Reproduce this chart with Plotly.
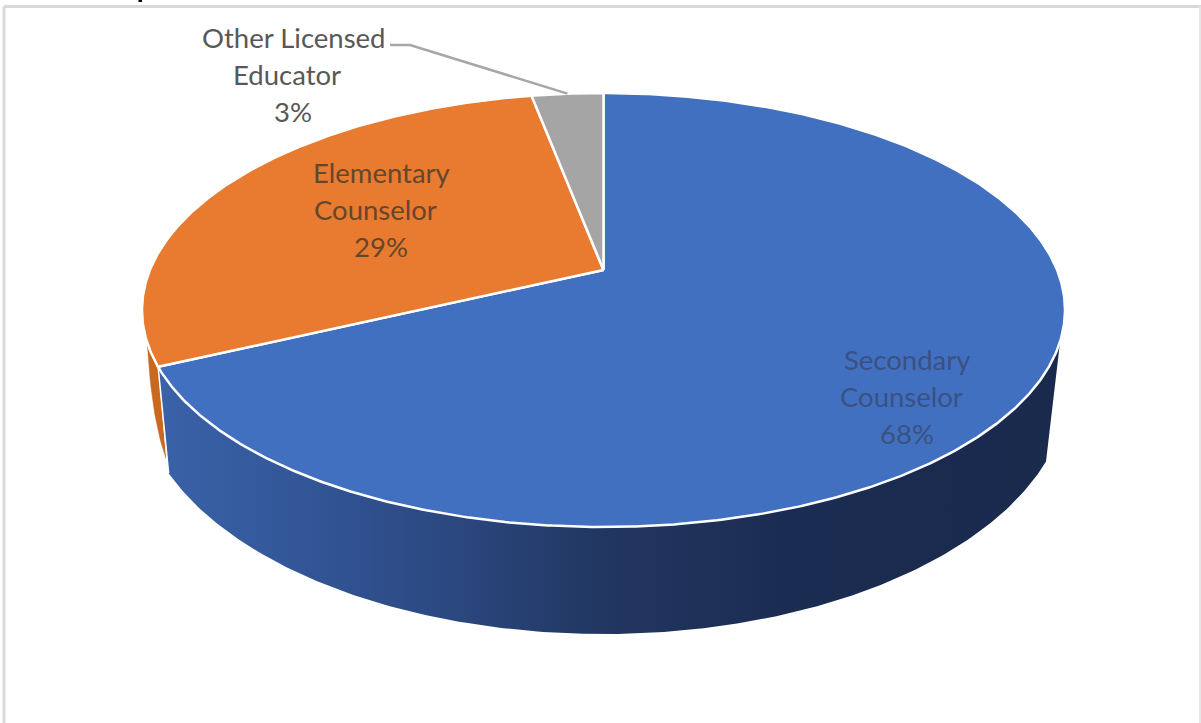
import numpy as np
import plotly.graph_objects as go

categories = ["Secondary Counselor", "Elementary Counselor", "Other Licensed Educator"]
values = [68, 29, 3]
label_lines = [["Secondary", "Counselor"], ["Elementary", "Counselor"], ["Other Licensed", "Educator"]]
slice_colors = ["#4270C0", "#E87B2F", "#A5A5A5"]
label_colors = ["#3A5183", "#66462C", "#585858"]
label_pos = [(907, 396), (381, 209), (293, 74)]

# perspective projection of the pie disc
CX, CY, A, B, K = 603.5, 270.0, 453.6, 209.6, 0.1843


def rim(frac):
    th = 2 * np.pi * np.asarray(frac)
    d = 1 + K * np.cos(th)
    return CX + A * np.sin(th) / d, CY - B * np.cos(th) / d


fracs = np.cumsum([0] + values) / sum(values)
fig = go.Figure()

# base ellipse of the side wall
BX, BY, BRX, BRY = 603.5, 385.0, 465.0, 249.0
f_right = 0.302
f_end = fracs[1]
rx0, ry0 = rim(f_end)

# orange wall
f_tan = f_end + 0.017
tt = np.linspace(f_end, f_tan, 12)
ox, oy = rim(tt)
s = np.linspace(0, 1, 24)
p0 = (ox[-1], oy[-1])
p2 = (rx0 + 8, ry0 + 92)
p1 = (p0[0] + 4, p0[1] + 75)
qx = (1 - s) ** 2 * p0[0] + 2 * s * (1 - s) * p1[0] + s ** 2 * p2[0]
qy = (1 - s) ** 2 * p0[1] + 2 * s * (1 - s) * p1[1] + s ** 2 * p2[1]
fig.add_trace(go.Scatter(x=np.r_[ox, qx], y=np.r_[oy, qy], mode="lines", fill="toself",
                         fillcolor="#C9691F", line=dict(color="#C9691F", width=0.5), hoverinfo="skip"))

# blue wall with gradient
ff = np.linspace(f_right, f_end, 200)
wx, wy = rim(ff)
lx0, lx1 = rx0 + 10.5, 1046.0
phi = np.linspace(np.arccos((lx0 - BX) / BRX), np.arccos((lx1 - BX) / BRX), 200)
bx = BX + BRX * np.cos(phi)
by = BY + BRY * np.sin(phi)
fig.add_trace(go.Scatter(
    x=np.r_[wx, bx, wx[0]], y=np.r_[wy, by, wy[0]], mode="lines", fill="toself",
    line=dict(color="rgba(0,0,0,0)", width=0),
    fillgradient=dict(type="horizontal", colorscale=[
        [0, "#3A62A8"], [0.12, "#34599C"], [0.3, "#2C4A84"], [0.5, "#213660"],
        [0.7, "#1B2C52"], [1, "#1A2A4D"]]),
    hoverinfo="skip"))
# white seam between the walls
fig.add_trace(go.Scatter(x=[rx0, lx0], y=[ry0, by[0]], mode="lines",
                         line=dict(color="white", width=1.5), hoverinfo="skip"))

# top slices
for i, c in enumerate(slice_colors):
    f = np.linspace(fracs[i], fracs[i + 1], max(4, int(values[i] * 8)))
    x, y = rim(f)
    fig.add_trace(go.Scatter(x=np.r_[CX, x, CX], y=np.r_[CY, y, CY], mode="lines", fill="toself",
                             fillcolor=c, line=dict(color="white", width=2.5), name=categories[i],
                             hoverinfo="name"))

# leader line
lead_x, lead_y = rim((fracs[2] + fracs[3]) / 2)
fig.add_trace(go.Scatter(x=[390, 410, lead_x], y=[45, 45, lead_y], mode="lines",
                         line=dict(color="#A6A6A6", width=2.5), hoverinfo="skip"))

# labels: the wrapped middle line sits a little left of the others
anns = []
for lines, v, c, (px, py) in zip(label_lines, values, label_colors, label_pos):
    for t, off, dx in zip(lines + [f"{v}%"], (-37, 0, 37), (0, -6, 0)):
        anns.append(dict(x=px + dx, y=py + off, xref="x", yref="y", showarrow=False,
                         text=t, font=dict(family="Lato", size=27.5, color=c)))

fig.update_layout(
    width=1201, height=723, margin=dict(l=0, r=0, t=0, b=0), showlegend=False,
    paper_bgcolor="white", plot_bgcolor="white",
    xaxis=dict(range=[0, 1201], visible=False, fixedrange=True),
    yaxis=dict(range=[723, 0], visible=False, fixedrange=True),
    annotations=anns,
    shapes=[
        dict(type="line", xref="x", yref="y", x0=4, x1=4, y0=6.5, y1=723, line=dict(color="#D9D9D9", width=3), layer="below"),
        dict(type="line", xref="x", yref="y", x0=4, x1=1201, y0=6.5, y1=6.5, line=dict(color="#D9D9D9", width=3), layer="below"),
        dict(type="line", xref="x", yref="y", x0=1200, x1=1200, y0=6.5, y1=723, line=dict(color="#E6E6E6", width=2), layer="below"),
        # tail of a cropped title letter at the top edge
        dict(type="rect", xref="x", yref="y", x0=138.5, x1=142, y0=0, y1=2, fillcolor="black", line=dict(width=0)),
    ],
)
fig.write_html("out.html", config=dict(displayModeBar=False),
               post_script="document.body.style.margin='0';document.body.style.overflow='hidden';")
